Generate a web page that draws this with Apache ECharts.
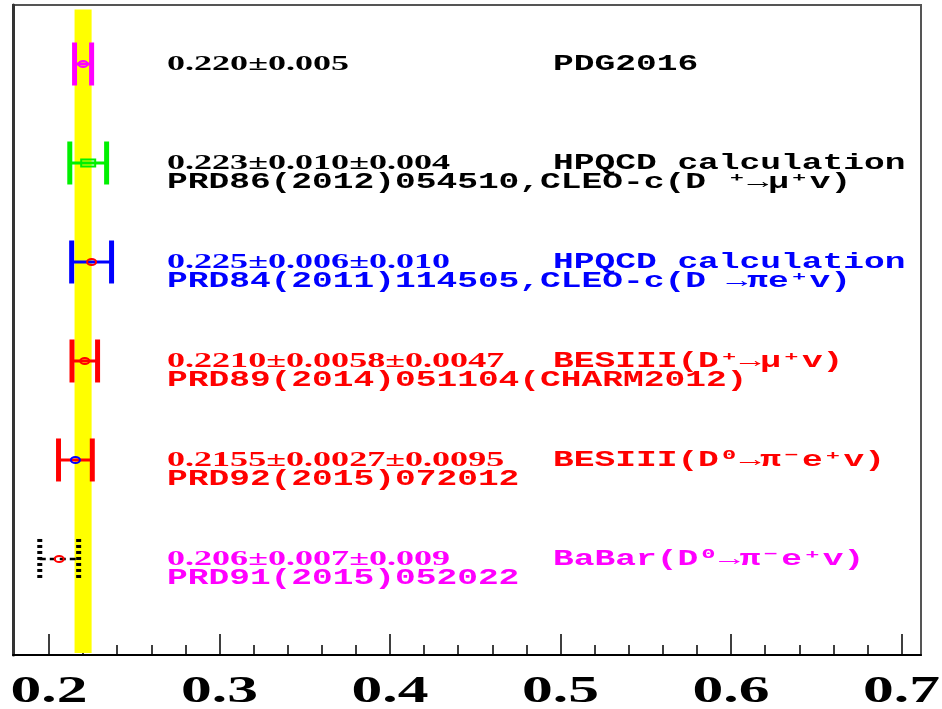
<!DOCTYPE html>
<html>
<head>
<meta charset="utf-8">
<script src="https://cdn.jsdelivr.net/npm/echarts@6/dist/echarts.min.js"></script>
<style>
  html, body { margin: 0; padding: 0; background: #fff; }
  #main { width: 942px; height: 709px; }
</style>
</head>
<body>
<div id="main"></div>
<script>
// rows from top (PDG) to bottom (BaBar)
var rowPos   = [6, 5, 4, 3, 2, 1];
var central  = [0.220, 0.223, 0.225, 0.2210, 0.2155, 0.206];
var errLow   = [0.215, 0.2122, 0.2133, 0.2135, 0.2056, 0.1946];
var errHigh  = [0.225, 0.2338, 0.2367, 0.2285, 0.2254, 0.2174];

var valueText  = ['0.220±0.005', '0.223±0.010±0.004', '0.225±0.006±0.010',
                  '0.2210±0.0058±0.0047', '0.2155±0.0027±0.0095', '0.206±0.007±0.009'];
var sourceText = ['PDG2016', 'HPQCD calculation', 'HPQCD calculation',
                  'BESIII(D⁺→μ⁺v)', 'BESIII(D⁰→π⁻e⁺v)', 'BaBar(D⁰→π⁻e⁺v)'];
var refText    = ['', 'PRD86(2012)054510,CLEO-c(D ⁺→μ⁺v)', 'PRD84(2011)114505,CLEO-c(D →πe⁺v)',
                  'PRD89(2014)051104(CHARM2012)', 'PRD92(2015)072012', 'PRD91(2015)052022'];

var tickLabels = [0.2, 0.3, 0.4, 0.5, 0.6, 0.7];
var minorTicks = [0.22, 0.24, 0.26, 0.28, 0.32, 0.34, 0.36, 0.38, 0.42, 0.44, 0.46, 0.48,
                  0.52, 0.54, 0.56, 0.58, 0.62, 0.64, 0.66, 0.68];

// styles
var barColor    = ['#ff00ff', '#00f000', '#0000ff', '#ff0000', '#ff0000', '#000000'];
var markerColor = ['#ff00ff', '#00f000', '#ff0000', '#ff0000', '#0000ff', '#ff0000'];
var textColor   = ['#000000', '#000000', '#0000ff', '#ff0000', '#ff0000', '#ff00ff'];

var X_MIN = 0.1789, X_MAX = 0.7114, Y_MIN = 0.03, Y_MAX = 6.596;
var LEFT_COL = 0.2692, RIGHT_COL = 0.4956;
var SERIF = '"Liberation Serif", "DejaVu Serif", serif';
var MONO  = '"Liberation Mono", "DejaVu Sans Mono", monospace';

function txt(x, y, s, family, size, color, sx, align) {
    return {
        type: 'text', x: x, y: y, scaleX: sx,
        style: {
            text: s, x: 0, y: 0,
            fontFamily: family, fontSize: size, fontWeight: 'bold',
            fill: color,
            align: align || 'left', verticalAlign: 'middle'
        }
    };
}

function renderBar(params, api) {
    var i = params.dataIndex;
    var y = api.value(3);
    var lo = api.coord([api.value(0), y]);
    var hi = api.coord([api.value(1), y]);
    var c  = api.coord([api.value(2), y]);
    var dashed = (i === 5);
    var capH = dashed ? 20 : 21.5;
    var col = barColor[i];
    var kids = [
        {type: 'line', shape: {x1: lo[0], y1: lo[1], x2: hi[0], y2: hi[1]},
         style: {stroke: col, lineWidth: dashed ? 2.5 : 3, lineDash: dashed ? [6, 4] : null}},
        {type: 'line', shape: {x1: lo[0], y1: lo[1] - capH, x2: lo[0], y2: lo[1] + capH},
         style: {stroke: col, lineWidth: 5, lineDash: dashed ? [3, 3] : null}},
        {type: 'line', shape: {x1: hi[0], y1: hi[1] - capH, x2: hi[0], y2: hi[1] + capH},
         style: {stroke: col, lineWidth: 5, lineDash: dashed ? [3, 3] : null}}
    ];
    if (i === 1) {
        kids.push({type: 'rect', shape: {x: c[0] - 7, y: c[1] - 3.5, width: 14, height: 7},
                   style: {fill: 'rgba(0,0,0,0)', stroke: markerColor[i], lineWidth: 2}});
    } else {
        kids.push({type: 'ellipse', shape: {cx: c[0], cy: c[1], rx: 4.5, ry: 3},
                   style: {fill: 'rgba(0,0,0,0)', stroke: markerColor[i], lineWidth: 2}});
    }
    return {type: 'group', children: kids};
}

function renderText(params, api) {
    var i = params.dataIndex;
    var y = api.value(0);
    var pl = api.coord([LEFT_COL, y]);
    var pr = api.coord([RIGHT_COL, y]);
    var kids = [
        txt(pl[0], pl[1], valueText[i], SERIF, 22, textColor[i], 1.64),
        txt(pr[0], pr[1], sourceText[i], MONO, 22, textColor[i], 1.57)
    ];
    if (refText[i]) {
        kids.push(txt(pl[0], pl[1] + 19.5, refText[i], MONO, 22, textColor[i], 1.57));
    }
    return {type: 'group', children: kids};
}

function renderTick(params, api) {
    var p = api.coord([api.value(0), Y_MIN]);
    return txt(p[0], p[1] + 37, String(api.value(0)), SERIF, 38, '#000', 1.62, 'center');
}

var barData = central.map(function (v, i) { return [errLow[i], errHigh[i], v, rowPos[i]]; });
var textData = rowPos.map(function (r) { return [r]; });
var tickData = tickLabels.map(function (v) { return [v]; });

var chart = echarts.init(document.getElementById('main'));
chart.setOption({
    backgroundColor: '#ffffff',
    animation: false,
    grid: {left: 13, right: 21, top: 5, bottom: 54, show: true,
           borderColor: '#555', borderWidth: 2, backgroundColor: 'transparent'},
    xAxis: [{
        type: 'value', min: X_MIN, max: X_MAX, position: 'bottom',
        axisLine: {show: true, onZero: false, lineStyle: {color: '#000', width: 2}},
        axisTick: {show: true, inside: true, length: 21, customValues: tickLabels,
                   lineStyle: {color: '#000', width: 1.5}},
        axisLabel: {show: false},
        splitLine: {show: false}
    }, {
        type: 'value', min: X_MIN, max: X_MAX, position: 'bottom', offset: 0,
        axisLine: {show: false, onZero: false},
        axisTick: {show: true, inside: true, length: 10, customValues: minorTicks,
                   lineStyle: {color: '#000', width: 1.5}},
        axisLabel: {show: false},
        splitLine: {show: false}
    }],
    yAxis: {
        type: 'value', min: Y_MIN, max: Y_MAX,
        axisLine: {show: true, onZero: false, lineStyle: {color: '#333', width: 3}},
        axisTick: {show: false},
        axisLabel: {show: false},
        splitLine: {show: false}
    },
    series: [{
        type: 'scatter', data: [], silent: true, z: 1,
        markArea: {
            silent: true,
            itemStyle: {color: '#ffff00', opacity: 1},
            data: [[{xAxis: errLow[0], yAxis: 0.05}, {xAxis: errHigh[0], yAxis: 6.55}]]
        }
    }, {
        type: 'custom', renderItem: renderBar, data: barData, z: 3, silent: true
    }, {
        type: 'custom', renderItem: renderText, data: textData, z: 3, silent: true
    }, {
        type: 'custom', renderItem: renderTick, data: tickData, z: 3, silent: true, clip: false
    }]
});
</script>
</body>
</html>
